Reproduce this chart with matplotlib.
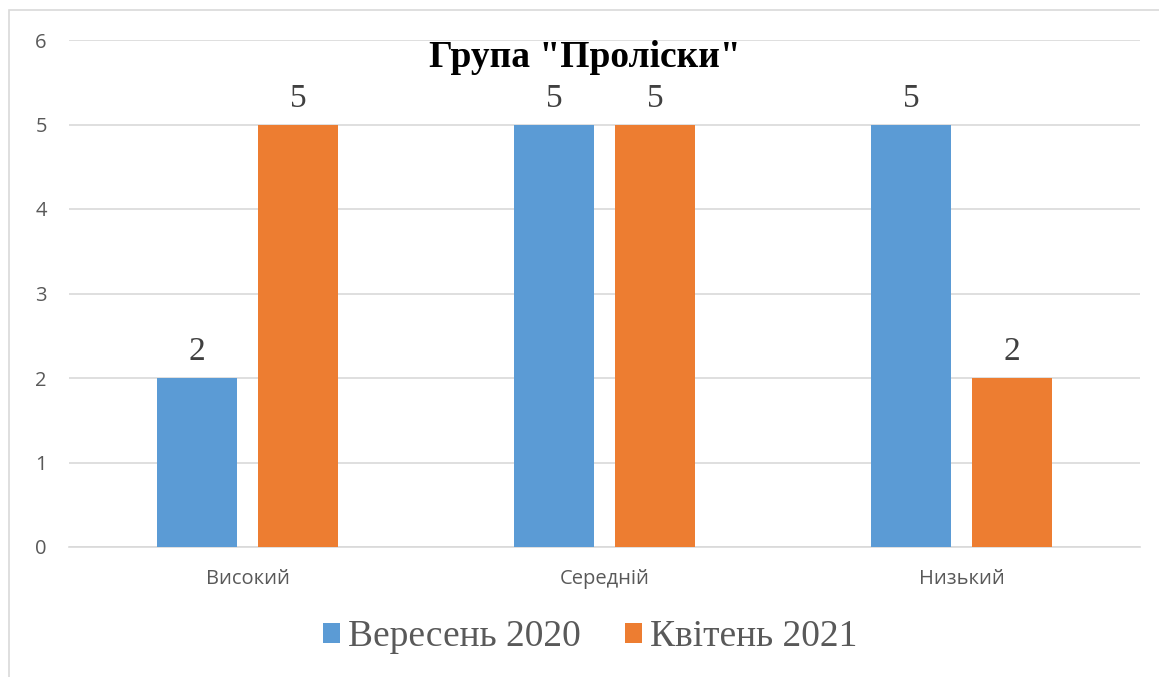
import matplotlib.pyplot as plt
import numpy as np
from matplotlib.patches import Rectangle

# Група "Проліски": рівні на початку та в кінці року

categories = ['Високий', 'Середній', 'Низький']
series_names = ['Вересень 2020', 'Квітень 2021']
values_2020 = [2, 5, 5]
values_2021 = [5, 5, 2]
y_ticks = [0, 1, 2, 3, 4, 5, 6]

blue = '#5B9BD5'
orange = '#ED7D31'
text_grey = '#595959'
serif = ['Liberation Serif', 'DejaVu Serif']
sans = ['Open Sans', 'DejaVu Sans']

fig = plt.figure(figsize=(11.59, 6.77), dpi=100)

# рамка навколо діаграми (як у Word)
fig.patches.append(Rectangle((9 / 1159, -0.1), 1.2, 0.1 + 667 / 677, transform=fig.transFigure,
                             fill=False, edgecolor='#D9D9D9', linewidth=1.2))

ax = fig.add_axes([69 / 1159, 130 / 677, 1071 / 1159, 507 / 677])

x = np.arange(len(categories))
width = 0.224
offset = 0.1415

bars1 = ax.bar(x - offset, values_2020, width=width, color=blue, label=series_names[0], zorder=3)
bars2 = ax.bar(x + offset, values_2021, width=width, color=orange, label=series_names[1], zorder=3)

for bars in (bars1, bars2):
    for b in bars:
        ax.text(b.get_x() + b.get_width() / 2, b.get_height() + 0.13, f'{int(b.get_height())}',
                ha='center', va='bottom', fontsize=24, family=serif, color='#404040')

ax.set_xlim(-0.5, 2.5)
ax.set_ylim(0, 6)
ax.set_yticks(y_ticks)
ax.set_xticks(x)
ax.set_xticklabels(categories)

for lab in ax.get_xticklabels() + ax.get_yticklabels():
    lab.set_family(sans)
    lab.set_fontsize(14.5)
    lab.set_color(text_grey)

ax.tick_params(axis='both', length=0)
ax.tick_params(axis='y', pad=16)
ax.tick_params(axis='x', pad=16)
ax.grid(axis='y', color='#D9D9D9', linewidth=1.2, zorder=0)
for s in ['top', 'right', 'left']:
    ax.spines[s].set_visible(False)
ax.spines['bottom'].set_color('#D9D9D9')
ax.spines['bottom'].set_linewidth(1.2)

fig.text(585 / 1159, 1 - 67 / 677, 'Група "Проліски"', ha='center', va='baseline',
         fontsize=27, fontweight='bold', family=serif, color='black')

leg = fig.legend(loc='center', bbox_to_anchor=(590 / 1159, 1 - 637 / 677), ncol=2, frameon=False,
                 prop={'family': serif, 'size': 27}, handlelength=0.45, handleheight=0.45,
                 handletextpad=0.22, columnspacing=1.17)
for t in leg.get_texts():
    t.set_color(text_grey)

plt.savefig('out.png', dpi=100)
